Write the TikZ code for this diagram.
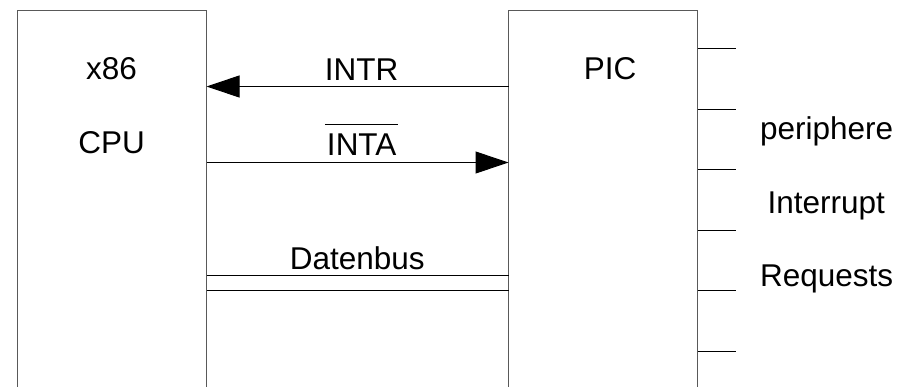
\documentclass[tikz,border=0pt]{standalone}
\usepackage{fontspec}
\setmainfont{Liberation Sans}
\usetikzlibrary{arrows.meta}
\newcommand\barred[1]{\setbox0\hbox{#1}\rlap{\kern-2pt\raisebox{30.5pt}{\rule{\dimexpr\wd0+4pt\relax}{1pt}}}\box0}
\begin{document}
\begin{tikzpicture}[x=1pt,y=-1pt,
  box/.style={draw=black!65,line width=1pt,rectangle,inner sep=0pt,outer sep=0pt,minimum width=189pt,minimum height=420pt,anchor=north west},
  lbl/.style={inner sep=0pt,anchor=base,font=\fontsize{31.5pt}{38pt}\selectfont},
  wire/.style={draw=black,line width=1pt},
  arr/.style={wire,-{Triangle[length=33pt,width=22pt]}}]
\useasboundingbox (0,0) rectangle (912,386);
\clip (0,0) rectangle (912,386);
\fill[white] (0,0) rectangle (912,386);
\node[box] (cpu) at (17.5,10.5) {};
\node[box] (pic) at (508.5,10.5) {};
\node[lbl] (x86) at (111.5,79.3) {x86};
\node[lbl] (cputxt) at (111.7,153.3) {CPU};
\node[lbl] (pictxt) at (610,79) {PIC};
\node[lbl] (intr) at (361.7,80) {INTR};
\node[lbl] (inta) at (361.7,155.3) {\barred{INTA}};
\node[lbl] (bus) at (357.2,269.3) {Datenbus};
\node[lbl] (p1) at (826.7,139) {periphere};
\node[lbl] (p2) at (826.3,213.3) {Interrupt};
\node[lbl] (p3) at (826.7,286.7) {Requests};
\draw[arr] (pic.north west |- 0,86.5) -- (cpu.north east |- 0,86.5);
\draw[arr] (cpu.north east |- 0,162.5) -- (pic.north west |- 0,162.5);
\draw[wire] (cpu.north east |- 0,275.5) -- (pic.north west |- 0,275.5);
\draw[wire] (cpu.north east |- 0,290.5) -- (pic.north west |- 0,290.5);
\foreach \y in {48.5,109.5,169.5,230.5,290.5,351.5}
  \draw[wire] (pic.north east |- 0,\y) -- ++(38,0);
\end{tikzpicture}
\end{document}
